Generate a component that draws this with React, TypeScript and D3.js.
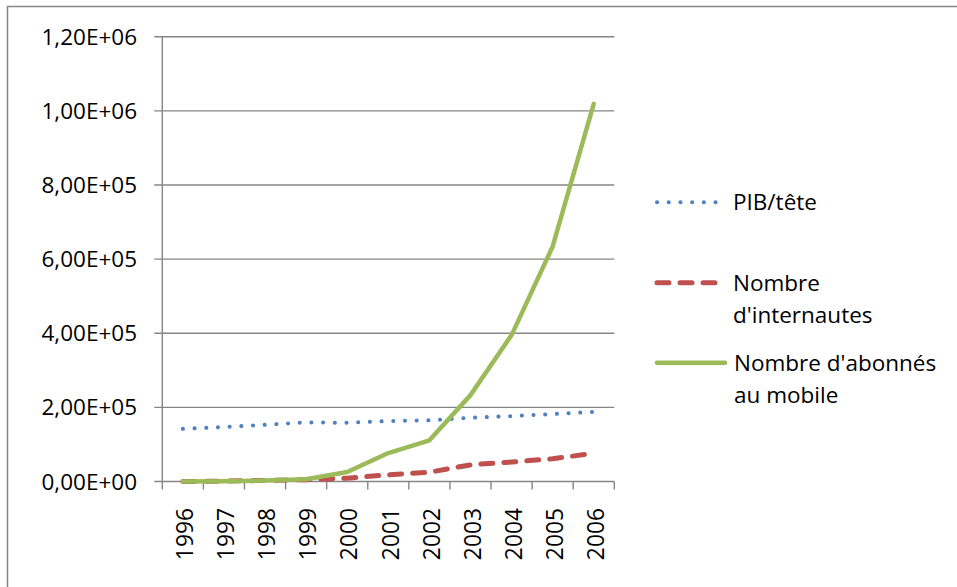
import React from "react";
import * as d3 from "d3";

const years = ["1996", "1997", "1998", "1999", "2000", "2001", "2002", "2003", "2004", "2005", "2006"];
const pibTete = [142000, 147000, 153000, 159500, 158500, 163000, 165000, 172000, 176500, 182000, 188000];
const internautes = [0, 1000, 3000, 5000, 9000, 18000, 25000, 45000, 52500, 61500, 76000];
const mobile = [0, 1000, 2500, 6000, 25600, 76800, 111000, 233000, 395000, 634000, 1019000];
const yTicks = [0, 200000, 400000, 600000, 800000, 1000000, 1200000];
const yTickLabels = ["0,00E+00", "2,00E+05", "4,00E+05", "6,00E+05", "8,00E+05", "1,00E+06", "1,20E+06"];
const seriesNames = ["PIB/tête", "Nombre d'internautes", "Nombre d'abonnés au mobile"];
const legendLines = [["PIB/tête"], ["Nombre", "d'internautes"], ["Nombre d'abonnés", "au mobile"]];

const W = 957;
const H = 587;
const plot = { left: 162.3, right: 614.3, top: 36.7, bottom: 481.5 };
const FONT = "'Open Sans', 'Liberation Sans', sans-serif";
const GRID = "#868686";

const styles = [
  { color: "#4F81BD", width: 4, dash: "0.1,11.6", cap: "round" },
  { color: "#C0504D", width: 5, dash: "12,11", cap: "round" },
  { color: "#9BBB59", width: 4.5, dash: "none", cap: "round" },
];

export default function App() {
  const x = d3.scaleBand<string>().domain(years).range([plot.left, plot.right]).padding(0);
  const y = d3.scaleLinear().domain([0, 1200000]).range([plot.bottom, plot.top]);
  const cx = (yr: string) => (x(yr) as number) + x.bandwidth() / 2;
  const line = d3
    .line<number>()
    .x((_, i) => cx(years[i]))
    .y((v) => y(v));
  const allSeries = [pibTete, internautes, mobile];
  const legendY = [202.3, 282.7, 362.7];

  return (
    <svg
      width={W}
      height={H}
      style={{ position: "absolute", left: 0, top: 0, background: "#fff" }}
      fontFamily={FONT}
    >
      <rect x={7.5} y={6.5} width={W + 10} height={H + 10} fill="#fff" stroke={GRID} strokeWidth={1.5} />
      {yTicks.map((t, i) => (
        <g key={t}>
          <line x1={plot.left - 8} x2={plot.right} y1={y(t)} y2={y(t)} stroke={GRID} strokeWidth={1.4} />
          <text x={137} y={y(t)} dy="0.36em" textAnchor="end" fontSize={22.5} fill="#000">
            {yTickLabels[i]}
          </text>
        </g>
      ))}
      <line x1={plot.left} x2={plot.left} y1={plot.top} y2={plot.bottom + 8} stroke={GRID} strokeWidth={1.4} />
      {years.map((yr) => (
        <line
          key={"t" + yr}
          x1={(x(yr) as number) + x.bandwidth()}
          x2={(x(yr) as number) + x.bandwidth()}
          y1={plot.bottom}
          y2={plot.bottom + 8}
          stroke={GRID}
          strokeWidth={1.4}
        />
      ))}
      {years.map((yr) => (
        <text
          key={"l" + yr}
          transform={`translate(${cx(yr) + 2},508) rotate(-90)`}
          dy="0.36em"
          textAnchor="end"
          fontSize={22.8}
          fill="#000"
        >
          {yr}
        </text>
      ))}
      {allSeries.map((s, k) => (
        <path
          key={seriesNames[k]}
          d={line(s) as string}
          fill="none"
          stroke={styles[k].color}
          strokeWidth={styles[k].width}
          strokeDasharray={styles[k].dash}
          strokeLinecap={styles[k].cap as any}
          strokeLinejoin="round"
        />
      ))}
      {legendLines.map((lines, k) => (
        <g key={"lg" + k}>
          <line
            x1={657}
            x2={k === 2 ? 725 : 716}
            y1={legendY[k]}
            y2={legendY[k]}
            stroke={styles[k].color}
            strokeWidth={styles[k].width}
            strokeDasharray={styles[k].dash}
            strokeLinecap={styles[k].cap as any}
          />
          {lines.map((ln, j) => (
            <text key={j} x={k === 2 ? 734 : 733} y={legendY[k] + j * 32} dy="0.36em" fontSize={22.5} fill="#000">
              {ln}
            </text>
          ))}
        </g>
      ))}
    </svg>
  );
}
